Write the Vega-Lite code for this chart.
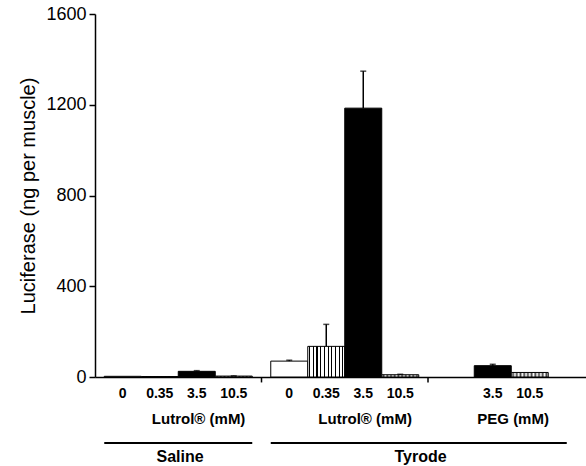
{
  "$schema": "https://vega.github.io/schema/vega-lite/v6.json",
  "width": 491,
  "height": 363,
  "autosize": {"type": "none"},
  "padding": {"left": 95, "top": 14, "right": 0, "bottom": 89},
  "background": "white",
  "config": {
    "view": {"stroke": null},
    "font": "Liberation Sans",
    "axis": {"domainColor": "#000", "tickColor": "#000", "labelColor": "#000", "titleColor": "#000", "grid": false}
  },
  "datasets": {
    "bars": [
      {"cat": "S|0", "medium": "Saline", "agent": "Lutrol", "conc": "0", "mean": 3, "err": 0},
      {"cat": "S|0.35", "medium": "Saline", "agent": "Lutrol", "conc": "0.35", "mean": 2, "err": 0},
      {"cat": "S|3.5", "medium": "Saline", "agent": "Lutrol", "conc": "3.5", "mean": 25, "err": 3},
      {"cat": "S|10.5", "medium": "Saline", "agent": "Lutrol", "conc": "10.5", "mean": 4, "err": 1},
      {"cat": "T|0", "medium": "Tyrode", "agent": "Lutrol", "conc": "0", "mean": 70, "err": 4},
      {"cat": "T|0.35", "medium": "Tyrode", "agent": "Lutrol", "conc": "0.35", "mean": 135, "err": 97},
      {"cat": "T|3.5", "medium": "Tyrode", "agent": "Lutrol", "conc": "3.5", "mean": 1185, "err": 163},
      {"cat": "T|10.5", "medium": "Tyrode", "agent": "Lutrol", "conc": "10.5", "mean": 10, "err": 2},
      {"cat": "P|3.5", "medium": "Tyrode", "agent": "PEG", "conc": "3.5", "mean": 50, "err": 6},
      {"cat": "P|10.5", "medium": "Tyrode", "agent": "PEG", "conc": "10.5", "mean": 20, "err": 0}
    ],
    "notes": [
      {"kind": "title", "cat": "S|3.5", "text": "Lutrol® (mM)"},
      {"kind": "title", "cat": "T|3.5", "text": "Lutrol® (mM)"},
      {"kind": "title", "cat": "_22", "text": "PEG (mM)"},
      {"kind": "group", "cat": "_4", "text": "Saline"},
      {"kind": "group", "cat": "_17", "text": "Tyrode"}
    ],
    "groups": [
      {"group": "Saline", "from": "_0", "to": "_8"},
      {"group": "Tyrode", "from": "_9", "to": "_25"}
    ],
    "breaks": [
      {"cat": "_8"},
      {"cat": "_17"}
    ]
  },
  "layer": [
    {
      "data": {"name": "bars"},
      "mark": {"type": "bar", "width": 37, "stroke": "#000", "strokeWidth": 1},
      "encoding": {
        "x": {
          "field": "cat", "type": "nominal", "sort": null,
          "scale": {
            "type": "band",
            "domain": ["_0", "S|0", "_2", "S|0.35", "_4", "S|3.5", "_6", "S|10.5", "_8", "_9", "T|0", "_11", "T|0.35", "_13", "T|3.5", "_15", "T|10.5", "_17", "_18", "_19", "_20", "P|3.5", "_22", "P|10.5", "_24", "_25"],
            "paddingInner": 0, "paddingOuter": 0.27, "align": 0
          },
          "axis": {
            "title": null, "ticks": false, "domainWidth": 1.5,
            "labelExpr": "indexof(datum.value, '|') > 0 ? split(datum.value, '|')[1] : ''",
            "labelFontSize": 14, "labelFontWeight": "bold", "labelPadding": 9, "labelAngle": 0
          }
        },
        "y": {
          "field": "mean", "type": "quantitative",
          "scale": {"domain": [0, 1600], "nice": false},
          "axis": {
            "title": "Luciferase (ng per muscle)", "values": [0, 400, 800, 1200, 1600], "format": "d",
            "labelFontSize": 18, "titleFontSize": 20, "titleFontWeight": "normal",
            "tickSize": 6, "tickWidth": 1.5, "domainWidth": 1.5, "labelPadding": 3, "titlePadding": 7
          }
        },
        "fill": {
          "condition": [
            {"test": "datum.conc === '0'", "value": "white"},
            {"test": "datum.conc === '0.35'", "value": {"gradient": "linear", "x1": 0, "y1": 0, "x2": 1, "y2": 0, "stops": [
              {"offset": 0.035, "color": "white"}, {"offset": 0.035, "color": "black"}, {"offset": 0.065, "color": "black"}, {"offset": 0.065, "color": "white"},
              {"offset": 0.135, "color": "white"}, {"offset": 0.135, "color": "black"}, {"offset": 0.165, "color": "black"}, {"offset": 0.165, "color": "white"},
              {"offset": 0.235, "color": "white"}, {"offset": 0.235, "color": "black"}, {"offset": 0.265, "color": "black"}, {"offset": 0.265, "color": "white"},
              {"offset": 0.335, "color": "white"}, {"offset": 0.335, "color": "black"}, {"offset": 0.365, "color": "black"}, {"offset": 0.365, "color": "white"},
              {"offset": 0.435, "color": "white"}, {"offset": 0.435, "color": "black"}, {"offset": 0.465, "color": "black"}, {"offset": 0.465, "color": "white"},
              {"offset": 0.535, "color": "white"}, {"offset": 0.535, "color": "black"}, {"offset": 0.565, "color": "black"}, {"offset": 0.565, "color": "white"},
              {"offset": 0.635, "color": "white"}, {"offset": 0.635, "color": "black"}, {"offset": 0.665, "color": "black"}, {"offset": 0.665, "color": "white"},
              {"offset": 0.735, "color": "white"}, {"offset": 0.735, "color": "black"}, {"offset": 0.765, "color": "black"}, {"offset": 0.765, "color": "white"},
              {"offset": 0.835, "color": "white"}, {"offset": 0.835, "color": "black"}, {"offset": 0.865, "color": "black"}, {"offset": 0.865, "color": "white"},
              {"offset": 0.935, "color": "white"}, {"offset": 0.935, "color": "black"}, {"offset": 0.965, "color": "black"}, {"offset": 0.965, "color": "white"}
            ]}},
            {"test": "datum.conc === '10.5'", "value": {"gradient": "linear", "x1": 0, "y1": 0, "x2": 1, "y2": 0, "stops": [
              {"offset": 0.0, "color": "white"}, {"offset": 0.05, "color": "#444"}, {"offset": 0.1, "color": "white"},
              {"offset": 0.15, "color": "#444"}, {"offset": 0.2, "color": "white"}, {"offset": 0.25, "color": "#444"},
              {"offset": 0.3, "color": "white"}, {"offset": 0.35, "color": "#444"}, {"offset": 0.4, "color": "white"},
              {"offset": 0.45, "color": "#444"}, {"offset": 0.5, "color": "white"}, {"offset": 0.55, "color": "#444"},
              {"offset": 0.6, "color": "white"}, {"offset": 0.65, "color": "#444"}, {"offset": 0.7, "color": "white"},
              {"offset": 0.75, "color": "#444"}, {"offset": 0.8, "color": "white"}, {"offset": 0.85, "color": "#444"},
              {"offset": 0.9, "color": "white"}, {"offset": 0.95, "color": "#444"}, {"offset": 1.0, "color": "white"}
            ]}}
          ],
          "value": "black"
        }
      }
    },
    {
      "data": {"name": "bars"},
      "transform": [{"filter": "datum.err > 0"}, {"calculate": "datum.mean + datum.err", "as": "top"}],
      "mark": {"type": "rule", "color": "#000", "strokeWidth": 1.5},
      "encoding": {
        "x": {"field": "cat", "type": "nominal"},
        "y": {"field": "mean", "type": "quantitative"},
        "y2": {"field": "top"}
      }
    },
    {
      "data": {"name": "bars"},
      "transform": [{"filter": "datum.err > 0"}, {"calculate": "datum.mean + datum.err", "as": "top"}],
      "mark": {"type": "tick", "color": "#000", "size": 6, "thickness": 1.5, "orient": "horizontal"},
      "encoding": {
        "x": {"field": "cat", "type": "nominal"},
        "y": {"field": "top", "type": "quantitative"}
      }
    },
    {
      "data": {"name": "breaks"},
      "mark": {"type": "rule", "color": "#000", "strokeWidth": 1.5},
      "encoding": {
        "x": {"field": "cat", "type": "nominal", "bandPosition": 1},
        "y": {"datum": 0},
        "y2": {"datum": -24}
      }
    },
    {
      "data": {"name": "notes"},
      "transform": [{"filter": "datum.kind === 'title'"}],
      "mark": {"type": "text", "fontSize": 15, "fontWeight": "bold", "color": "#000", "baseline": "alphabetic", "align": "center"},
      "encoding": {
        "x": {"field": "cat", "type": "nominal", "bandPosition": 0.6},
        "y": {"datum": -207},
        "text": {"field": "text"}
      }
    },
    {
      "data": {"name": "groups"},
      "mark": {"type": "rule", "color": "#000", "strokeWidth": 2},
      "encoding": {
        "x": {"field": "from", "type": "nominal"},
        "x2": {"field": "to"},
        "y": {"datum": -291}
      }
    },
    {
      "data": {"name": "notes"},
      "transform": [{"filter": "datum.kind === 'group'"}],
      "mark": {"type": "text", "fontSize": 16, "fontWeight": "bold", "color": "#000", "baseline": "alphabetic", "align": "center"},
      "encoding": {
        "x": {"field": "cat", "type": "nominal", "bandPosition": 0.6},
        "y": {"datum": -376},
        "text": {"field": "text"}
      }
    }
  ]
}
